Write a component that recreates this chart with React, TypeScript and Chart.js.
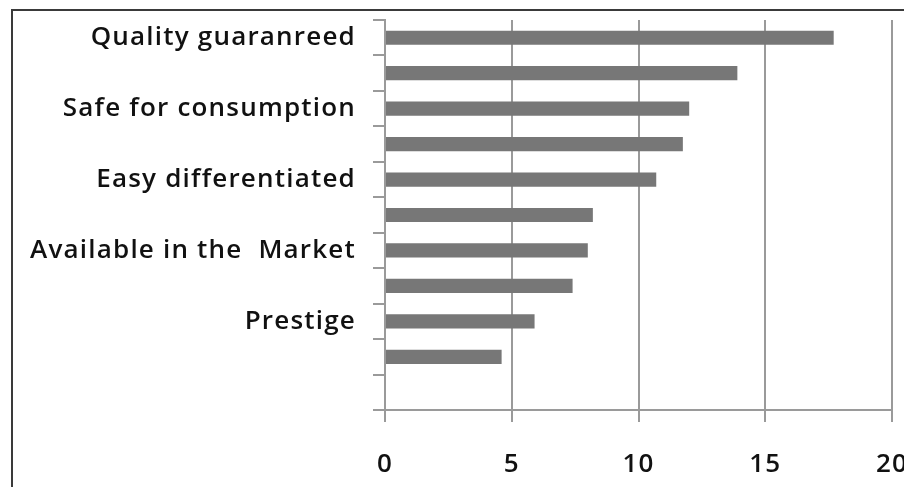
import React, { useEffect, useRef } from "react";
import { Chart, registerables } from "chart.js";

Chart.register(...registerables);

const categories: string[] = [
  "Quality guaranreed",
  "",
  "Safe for consumption",
  "",
  "Easy differentiated",
  "",
  "Available in the  Market",
  "",
  "Prestige",
  "",
  "",
];
const values: (number | null)[] = [17.7, 13.9, 12.0, 11.75, 10.7, 8.2, 8.0, 7.4, 5.9, 4.6, null];
const xTicks: number[] = [0, 5, 10, 15, 20];

const FONT = "'Open Sans', Lato, sans-serif";

const borderPlugin = {
  id: "outerBorder",
  beforeDraw(chart: any) {
    const ctx = chart.ctx;
    ctx.save();
    ctx.fillStyle = "#ffffff";
    ctx.fillRect(0, 0, chart.width, chart.height);
    ctx.strokeStyle = "#3a3a3a";
    ctx.lineWidth = 2;
    ctx.beginPath();
    ctx.moveTo(12, chart.height);
    ctx.lineTo(12, 10);
    ctx.lineTo(chart.width, 10);
    ctx.stroke();
    ctx.restore();
    (ctx as any).letterSpacing = "1.2px";
  },
  afterDraw(chart: any) {
    (chart.ctx as any).letterSpacing = "0px";
  },
};

export default function App() {
  const ref = useRef<HTMLCanvasElement | null>(null);
  useEffect(() => {
    document.body.style.margin = "0";
    const canvas = ref.current!;
    const chart = new Chart(canvas, {
      type: "bar",
      data: {
        labels: categories,
        datasets: [
          {
            data: values,
            backgroundColor: "#777777",
            borderWidth: 0,
            barPercentage: 0.4,
            categoryPercentage: 1,
          },
        ],
      },
      options: {
        indexAxis: "y",
        animation: false,
        responsive: false,
        maintainAspectRatio: false,
        layout: { padding: { left: 0, right: 12, top: 20, bottom: 0 } },
        plugins: { legend: { display: false }, tooltip: { enabled: false } },
        scales: {
          x: {
            type: "linear",
            min: 0,
            max: 20,
            afterBuildTicks: (scale: any) => {
              scale.ticks = xTicks.map((v) => ({ value: v }));
            },
            afterFit: (scale: any) => {
              scale.height = 77;
              scale.paddingLeft = 0;
              scale.paddingRight = 0;
            },
            grid: {
              color: "#9a9a9a",
              lineWidth: 2,
              tickLength: 12,
              drawTicks: true,
            },
            border: { color: "#9a9a9a", width: 2 },
            ticks: {
              autoSkip: false,
              maxRotation: 0,
              padding: 27,
              color: "#111111",
              font: { family: FONT, size: 26, weight: "600" },
            },
          },
          y: {
            type: "category",
            afterFit: (scale: any) => {
              scale.width = 385;
              scale.paddingTop = 0;
              scale.paddingBottom = 0;
            },
            grid: {
              offset: true,
              drawOnChartArea: false,
              drawTicks: true,
              tickLength: 12,
              color: "#9a9a9a",
              lineWidth: 2,
            },
            border: { color: "#9a9a9a", width: 2 },
            ticks: {
              autoSkip: false,
              padding: 17,
              color: "#111111",
              font: { family: FONT, size: 26, weight: "600" },
            },
          },
        },
      },
      plugins: [borderPlugin],
    });
    return () => chart.destroy();
  }, []);
  return (
    <div style={{ width: 904, height: 487 }}>
      <canvas ref={ref} width={904} height={487} style={{ display: "block" }} />
    </div>
  );
}
